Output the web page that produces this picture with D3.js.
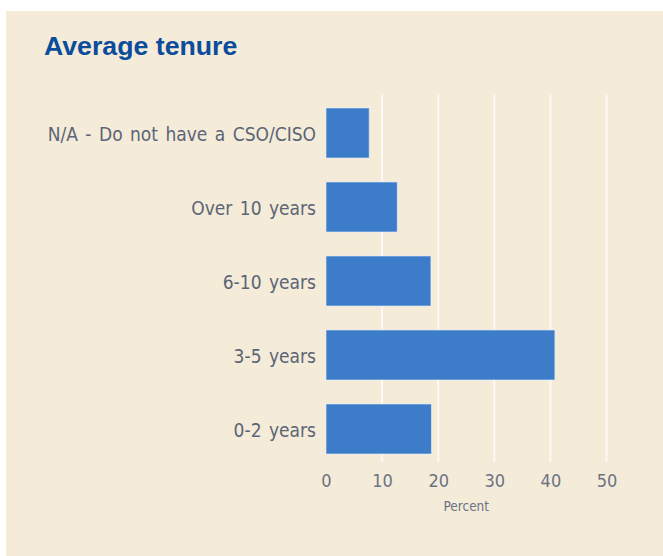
<!DOCTYPE html>
<html>
<head>
<meta charset="utf-8">
<script src="https://cdn.jsdelivr.net/npm/d3@7"></script>
<style>
  html, body { margin: 0; padding: 0; background: #ffffff; }
  svg { display: block; }
</style>
</head>
<body>
<svg id="chart" width="663" height="556"></svg>
<script>
const categories = ["N/A - Do not have a CSO/CISO", "Over 10 years", "6-10 years", "3-5 years", "0-2 years"];
const values = [7.7, 12.7, 18.7, 40.8, 18.8];
const tickValues = [0, 10, 20, 30, 40, 50];
const title = "Average tenure";
const axisTitle = "Percent";

const svg = d3.select("#chart");
const W = 663, H = 556;

svg.append("rect")
  .attr("x", 6).attr("y", 11)
  .attr("width", W - 6).attr("height", H - 11)
  .attr("fill", "#f5ebd9");

svg.append("text")
  .attr("x", 44).attr("y", 55)
  .attr("font-family", "'Liberation Sans', Arial, sans-serif")
  .attr("font-weight", "bold")
  .attr("font-size", 26.7)
  .attr("fill", "#0b4c9c")
  .text(title);

const x = d3.scaleLinear().domain([0, 50]).range([326, 606.5]);
const y = d3.scaleBand().domain(categories).range([96, 466]).paddingInner(0.324).paddingOuter(0.162);

// gridlines
svg.append("g").selectAll("line")
  .data(tickValues.filter(d => d > 0))
  .join("line")
  .attr("x1", d => x(d)).attr("x2", d => x(d))
  .attr("y1", 95).attr("y2", 462)
  .attr("stroke", "#ffffff")
  .attr("stroke-opacity", 0.75)
  .attr("stroke-width", 2);

// bars
svg.append("g").selectAll("rect")
  .data(categories)
  .join("rect")
  .attr("x", x(0))
  .attr("y", d => y(d))
  .attr("width", (d, i) => x(values[i]) - x(0))
  .attr("height", y.bandwidth())
  .attr("fill", "#3d7cc8")
  .attr("stroke", "#e8f0fa")
  .attr("stroke-opacity", 0.6)
  .attr("stroke-width", 1);

const font = "'DejaVu Sans Condensed', 'DejaVu Sans', sans-serif";

// y axis labels
const yAxis = d3.axisLeft(y).tickSize(0).tickPadding(10);
const gy = svg.append("g").attr("transform", `translate(${x(0)},0)`).call(yAxis);
gy.select(".domain").remove();
gy.selectAll("text")
  .attr("font-family", font)
  .attr("font-size", 19)
  .attr("word-spacing", 2)
  .attr("fill", "#5a6577")
  .attr("dy", "0.4em");

// x axis
const xAxis = d3.axisBottom(x).tickValues(tickValues).tickSize(0).tickPadding(0);
const gx = svg.append("g").attr("transform", `translate(0,473)`).call(xAxis);
gx.select(".domain").remove();
gx.selectAll("text")
  .attr("font-family", font)
  .attr("font-size", 18)
  .attr("fill", "#6b7384")
  .attr("dy", "0.75em");

svg.append("text")
  .attr("x", x(25)).attr("y", 511)
  .attr("text-anchor", "middle")
  .attr("font-family", font)
  .attr("font-size", 13.5)
  .attr("fill", "#6b7384")
  .text(axisTitle);
</script>
</body>
</html>
